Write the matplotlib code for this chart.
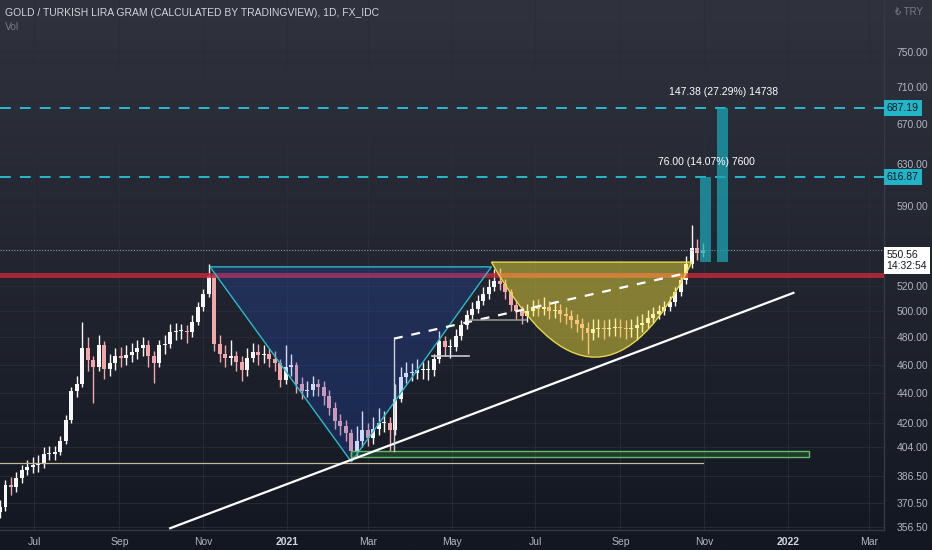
import numpy as np
import pandas as pd
import matplotlib
import matplotlib.pyplot as plt
import matplotlib.dates as mdates
from matplotlib.colors import LinearSegmentedColormap
from matplotlib.path import Path
from matplotlib.patches import PathPatch, Polygon, Rectangle
from matplotlib.ticker import NullLocator, FixedLocator, FixedFormatter
from matplotlib.transforms import blended_transform_factory

matplotlib.use("Agg")

# ============================================================
# 数据 (GOLD / TRY gram, 约每4天一个点)
# ============================================================
start_date = "2020-06-06"
first_open = 365
closes = [368, 381, 380, 385, 390, 392, 393, 394, 400, 400,
          401, 408, 422, 441, 446, 472, 463, 458, 474, 457,
          461, 466, 465, 467, 469, 472, 474, 466, 461, 474,
          475, 484, 485, 485, 484, 492, 503, 514, 528, 475,
          468, 465, 466, 462, 456, 465, 469, 467, 468, 464,
          461, 449, 458, 460, 446, 441, 442, 446, 444, 438,
          430, 421, 418, 413, 402, 408, 415, 410, 416, 420,
          420, 415, 436, 451, 454, 454, 456, 456, 456, 464,
          477, 473, 473, 481, 489, 497, 502, 508, 514, 519,
          524, 522, 515, 505, 500, 496, 500, 503, 502, 503,
          500, 501, 498, 496, 493, 490, 487, 483, 486, 487,
          486, 487, 488, 487, 486, 487, 489, 491, 495, 498,
          500, 503, 507, 515, 525, 538, 552, 548, 550.56]
highs = [372, 384, 386, 389, 393, 396, 398, 399, 404, 405,
         405, 411, 425, 444, 452, 492, 480, 466, 482, 477,
         468, 472, 473, 474, 476, 478, 480, 478, 470, 478,
         482, 490, 491, 490, 489, 497, 507, 518, 538, 530,
         482, 474, 478, 470, 466, 472, 476, 475, 474, 472,
         470, 464, 474, 468, 462, 451, 448, 452, 450, 448,
         442, 434, 426, 422, 416, 418, 428, 420, 424, 430,
         428, 424, 446, 458, 462, 461, 464, 462, 463, 468,
         485, 481, 479, 486, 493, 501, 507, 513, 519, 526,
         534, 535, 526, 518, 509, 504, 506, 509, 510, 511,
         508, 508, 506, 503, 501, 498, 495, 492, 494, 494,
         493, 494, 495, 494, 493, 494, 496, 498, 501, 503,
         505, 508, 512, 519, 529, 545, 572, 560, 556]
lows = [362, 366, 375, 377, 382, 387, 388, 389, 391, 396,
        396, 399, 406, 420, 437, 444, 455, 433, 455, 450,
        452, 456, 458, 460, 462, 464, 466, 458, 447, 458,
        468, 472, 478, 479, 476, 480, 489, 500, 511, 470,
        462, 458, 460, 455, 448, 452, 462, 460, 461, 458,
        455, 444, 446, 452, 440, 436, 437, 438, 438, 432,
        425, 416, 412, 408, 396, 398, 404, 405, 406, 412,
        414, 402, 412, 434, 447, 448, 450, 450, 449, 452,
        461, 466, 465, 470, 478, 486, 494, 499, 505, 510,
        516, 517, 510, 500, 494, 490, 492, 496, 496, 497,
        494, 495, 492, 490, 487, 484, 478, 468, 478, 480,
        479, 481, 481, 480, 479, 480, 478, 484, 487, 491,
        494, 497, 500, 504, 512, 522, 535, 542, 544]

last_price = 550.56
target1, target2 = 616.87, 687.19
base_level = 540

# 右侧价格刻度 / 底部日期刻度
price_ticks = [356.5, 370.5, 386.5, 404, 420, 440, 460, 480, 500, 520,
               590, 630, 670, 710, 750]
date_ticks = ["2020-07-01", "2020-09-01", "2020-11-01", "2021-01-01",
              "2021-03-01", "2021-05-01", "2021-07-01", "2021-09-01",
              "2021-11-01", "2022-01-01", "2022-03-01"]
date_labels = ["Jul", "Sep", "Nov", "2021", "Mar", "May", "Jul", "Sep",
               "Nov", "2022", "Mar"]

# 画线工具 (日期, 价格)
tri_dates = ["2020-11-06", "2021-05-30", "2021-02-17"]
tri_prices = [536, 536, 395]
cup_dates = ["2021-05-30", "2021-08-16", "2021-10-23"]   # 起点, 控制点, 终点
cup_prices = [540, 401, 540]
trend_dates = ["2020-10-08", "2022-01-05"]
trend_prices = [356, 514.6]
neck_dates = ["2021-03-20", "2021-10-20"]
neck_prices = [479, 531]
pole_date = "2021-03-20"
pole_prices = [402, 479]
short1_dates, short1_price = ["2021-04-17", "2021-05-14"], 466
short2_dates, short2_price = ["2021-05-14", "2021-06-24"], 493
support_end, support_price = "2021-10-31", 394.4
resist_price = 529
box_dates, box_prices = ["2021-02-17", "2022-01-16"], [398, 402]
meas1_dates = ["2021-10-29", "2021-11-06"]
meas2_dates = ["2021-11-10", "2021-11-18"]

TXT = "#d1d4dc"
AXT = "#b2b5be"
FONT = ["Liberation Sans", "DejaVu Sans"]
plt.rcParams["font.family"] = FONT

# ============================================================
# 画图
# ============================================================
fig = plt.figure(figsize=(9.32, 5.5), dpi=100)

# 背景渐变
bg = fig.add_axes([0, 0, 1, 1])
grad = np.linspace(1, 0, 256).reshape(-1, 1)
cmap = LinearSegmentedColormap.from_list("bg", ["#131722", "#30333d"])
bg.imshow(grad, aspect="auto", cmap=cmap, extent=[0, 1, 0, 1])
bg.axis("off")

ax = fig.add_axes([0, 20 / 550, 884 / 932, 530 / 550])
ax.patch.set_alpha(0)
ax.set_yscale("log")
ax.set_ylim(355, 814)
ax.set_xlim(pd.Timestamp("2020-06-06"), pd.Timestamp("2022-03-12"))

dates = pd.date_range(start_date, periods=len(closes), freq="4D")
opens = [first_open] + closes[:-1]
o = np.array(opens)
c = np.array(closes)
up = c >= o
colors = np.where(up, "#f7f7f7", "#f2a7aa")

# K线
ax.vlines(dates, lows, highs, colors=colors, lw=1.0, zorder=2)
ax.bar(dates, np.maximum(np.abs(c - o), 0.6), bottom=np.minimum(o, c),
       width=2.9, color=colors, zorder=3)

# 水平线
ax.axhline(resist_price, color="#c0283a", lw=3.5, alpha=0.85, zorder=4)
ax.axhline(last_price, color="#9598a1", lw=0.8, ls=(0, (1, 1.5)), zorder=4)
for lvl in (target1, target2):
    ax.axhline(lvl, color="#26c6da", lw=1.3, ls=(0, (6, 5)), zorder=4)
ax.plot([pd.Timestamp("2020-06-01"), pd.Timestamp(support_end)],
        [support_price] * 2, color="#c8b89a", lw=0.9, zorder=4)

# 三角形
tri_x = mdates.date2num(pd.to_datetime(tri_dates))
ax.add_patch(Polygon(np.column_stack([tri_x, tri_prices]), closed=True,
                     fc="#2962ff", alpha=0.2, ec="none", zorder=5))
ax.add_patch(Polygon(np.column_stack([tri_x, tri_prices]), closed=True,
                     fc="none", ec="#2bbbc8", lw=1, zorder=6))

# 杯形
cx = mdates.date2num(pd.to_datetime(cup_dates))
cup_path = Path([(cx[0], cup_prices[0]), (cx[1], cup_prices[1]),
                 (cx[2], cup_prices[2]), (cx[0], cup_prices[0])],
                [Path.MOVETO, Path.CURVE3, Path.CURVE3, Path.LINETO])
ax.add_patch(PathPatch(cup_path, fc="#ffeb3b", alpha=0.45, ec="none",
                       zorder=5))
ax.add_patch(PathPatch(cup_path, fc="none", ec="#e8d84a", lw=1, zorder=6))

# 趋势线 / 颈线
ax.plot(pd.to_datetime(trend_dates), trend_prices, color="white", lw=1.6,
        zorder=7)
ax.plot(pd.to_datetime(neck_dates), neck_prices, color="white", lw=1.6,
        ls=(0, (4, 4)), zorder=7)
ax.plot([pd.Timestamp(pole_date)] * 2, pole_prices, color="#cfd0d4",
        lw=1, zorder=7)
ax.plot(pd.to_datetime(short1_dates), [short1_price] * 2, color="#c9cacf",
        lw=1.2, zorder=7)
ax.plot(pd.to_datetime(short2_dates), [short2_price] * 2, color="#a9ae9a",
        lw=1.2, alpha=0.8, zorder=7)

# 绿色区域
bx = mdates.date2num(pd.to_datetime(box_dates))
ax.add_patch(Rectangle((bx[0], box_prices[0]), bx[1] - bx[0],
                       box_prices[1] - box_prices[0],
                       fc="#2e7d32", alpha=0.35, ec="none", zorder=5))
ax.add_patch(Rectangle((bx[0], box_prices[0]), bx[1] - bx[0],
                       box_prices[1] - box_prices[0],
                       fc="none", ec="#66bb6a", lw=1, zorder=6))

# 测量柱
for md, top in ((meas1_dates, target1), (meas2_dates, target2)):
    d = mdates.date2num(pd.to_datetime(md))
    ax.add_patch(Rectangle((d[0], base_level), d[1] - d[0], top - base_level,
                           fc="#1aa3b3", alpha=0.75, ec="none", zorder=6))
ax.text(pd.Timestamp("2021-11-03"), 632, "76.00 (14.07%) 7600",
        color="white", fontsize=7.5, ha="center", va="center", zorder=8)
ax.text(pd.Timestamp("2021-11-15"), 705, "147.38 (27.29%) 14738",
        color="white", fontsize=7.5, ha="center", va="center", zorder=8)

# 坐标轴
for s in ("top", "left"):
    ax.spines[s].set_visible(False)
for s in ("right", "bottom"):
    ax.spines[s].set_color("#363a45")
    ax.spines[s].set_linewidth(1)

ax.yaxis.set_major_locator(FixedLocator(price_ticks))
ax.yaxis.set_major_formatter(FixedFormatter([f"{v:.2f}" for v in price_ticks]))
ax.yaxis.set_minor_locator(NullLocator())
ax.tick_params(axis="y", left=False, right=True, labelleft=False,
               labelright=True, length=0, pad=9, labelsize=7.5, colors=AXT)

ax.set_xticks(pd.to_datetime(date_ticks))
ax.set_xticklabels(date_labels)
ax.tick_params(axis="x", length=0, pad=5, labelsize=7.5, colors=AXT)
for lab in ax.get_xticklabels():
    if lab.get_text().isdigit():
        lab.set_fontweight("bold")
        lab.set_color(TXT)

ax.grid(True, color="#2a2e39", lw=0.8, alpha=0.8, zorder=0)

# 右侧价格标签
tr = blended_transform_factory(ax.transAxes, ax.transData)
for lvl in (target1, target2):
    ax.text(1.003, lvl, f"{lvl:.2f}", transform=tr, fontsize=7.5,
            color="#131722", ha="left", va="center", clip_on=False,
            bbox=dict(boxstyle="square,pad=0.3", fc="#22b5c8", ec="none"))
ax.text(1.003, last_price, f"{last_price:.2f}\n14:32:54", transform=tr,
        fontsize=7.5, color="#131722", ha="left", va="top", clip_on=False,
        linespacing=1.1,
        bbox=dict(boxstyle="square,pad=0.3", fc="white", ec="none"))

# 标题
fig.text(5 / 932, 1 - 13 / 550,
         "GOLD / TURKISH LIRA GRAM (CALCULATED BY TRADINGVIEW), 1D, FX_IDC",
         color=TXT, fontsize=7.5, va="center", ha="left")
fig.text(5 / 932, 1 - 27 / 550, "Vol", color="#787b86", fontsize=7.5,
         va="center", ha="left")
fig.text(895 / 932, 1 - 12 / 550, "₺ TRY", color="#787b86", fontsize=7,
         va="center", ha="left")

fig.savefig("out.png", dpi=100)
